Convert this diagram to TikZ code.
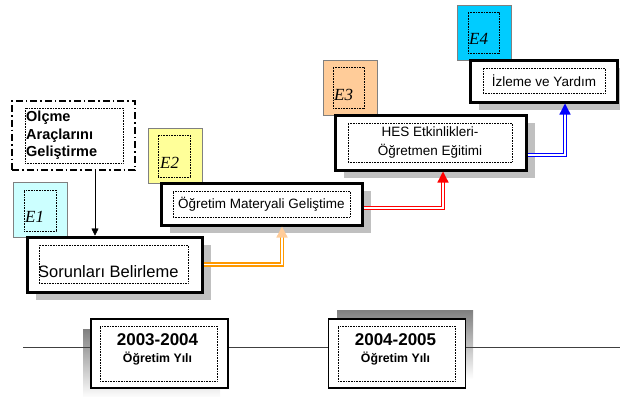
\documentclass[tikz,border=0pt]{standalone}
\usepackage{fontspec}
\setmainfont{Liberation Sans}
\newfontfamily\tagfont{Liberation Serif}
\usetikzlibrary{arrows.meta,shadows}
\definecolor{tagone}{HTML}{CCFFFF}
\definecolor{tagtwo}{HTML}{FFFF99}
\definecolor{tagthree}{HTML}{FFCC99}
\definecolor{tagfour}{HTML}{00CCFF}
\definecolor{shade}{HTML}{C0C0C0}
\definecolor{linkorange}{HTML}{FF9900}
\definecolor{linkpeach}{HTML}{FFCC99}
\definecolor{linegray}{HTML}{404040}

\begin{document}
\begin{tikzpicture}[x=1pt,y=-1pt,
    stepbox/.style={draw,line width=3pt,fill=white,rectangle,inner sep=0pt,
      drop shadow={opacity=1,fill=shade,shadow xshift=9pt,shadow yshift=-8pt}},
    innerbox/.style={draw,line width=0.6pt,dash pattern=on 0.7pt off 0.9pt,rectangle,inner sep=0pt},
    tagbox/.style={draw=gray,line width=0.8pt,rectangle,inner sep=0pt,minimum width=54pt,minimum height=55pt},
    tagtext/.style={font=\tagfont\itshape\fontsize{17}{17}\selectfont,inner sep=0pt,anchor=base west},
    steptext/.style={font=\fontsize{13.5}{19}\selectfont,align=center,inner sep=0pt},
    yearbox/.style={draw,line width=1.2pt,fill=white,rectangle,inner sep=0pt,minimum width=137pt,minimum height=69pt},
    yeartop/.style={font=\bfseries\fontsize{17}{18}\selectfont,inner sep=0pt,anchor=base},
    yearbot/.style={font=\bfseries\fontsize{12.3}{14}\selectfont,inner sep=0pt,anchor=base},
    link/.style={double,double distance=1.5pt,line width=1.3pt}]
    \useasboundingbox (0,0) rectangle (620,396);

    % tags
    \node[tagbox,fill=tagone] (e1) at (40.5,210) {};
    \node[innerbox,minimum width=32pt,minimum height=41pt] (e1in) at (40,210.5) {};
    \node[tagtext] (e1t) at (25,222.5) {E1};
    \node[tagbox,fill=tagtwo] (e2) at (175,155.5) {};
    \node[innerbox,minimum width=32pt,minimum height=42pt] (e2in) at (174,156) {};
    \node[tagtext] (e2t) at (160,168.5) {E2};
    \node[tagbox,fill=tagthree] (e3) at (350,87.5) {};
    \node[innerbox,minimum width=31pt,minimum height=41pt] (e3in) at (348.5,87.5) {};
    \node[tagtext] (e3t) at (334,100.5) {E3};
    \node[tagbox,fill=tagfour] (e4) at (484,32.5) {};
    \node[innerbox,minimum width=31pt,minimum height=41pt] (e4in) at (483.5,32.5) {};
    \node[tagtext] (e4t) at (469,44.5) {E4};

    % steps
    \node[draw,line width=1.5pt,dash pattern=on 7pt off 3pt on 1.5pt off 3pt,
      minimum width=123pt,minimum height=69pt] (olcme) at (73.5,135.5) {};
    \node[innerbox,minimum width=98pt,minimum height=55pt] (olcmein) at (74,135.5) {};
    \node[font=\bfseries\fontsize{14.5}{17.5}\selectfont,align=left,inner sep=0pt,anchor=north west]
      (olcmet) at (26,111) {Olçme\\Araçlarını\\Geliştirme};

    \node[stepbox,minimum width=175pt,minimum height=55pt] (sorun) at (114.5,264.5) {};
    \node[innerbox,minimum width=149pt,minimum height=38pt] (sorunin) at (113.5,264) {};
    \node[font=\fontsize{16.5}{16.5}\selectfont,inner sep=0pt,anchor=base west]
      (sorunt) at (38,277.5) {Sorunları Belirleme};

    \node[stepbox,minimum width=201pt,minimum height=42pt] (ogret) at (261.5,204) {};
    \node[innerbox,steptext,minimum width=177pt,minimum height=26pt] (ogretin) at (261.5,204)
      {Öğretim Materyali Geliştime};

    \node[stepbox,minimum width=191pt,minimum height=55pt] (hes) at (430.5,142.5) {};
    \node[innerbox,steptext,minimum width=164pt,minimum height=39pt] (hesin) at (430,142.5)
      {HES Etkinlikleri-\\Öğretmen Eğitimi};

    \node[stepbox,minimum width=147pt,minimum height=42pt] (izle) at (543.5,81) {};
    \node[innerbox,steptext,minimum width=122pt,minimum height=25pt] (izlein) at (544,80.5)
      {İzleme ve Yardım};

    % connectors
    \draw[-{Triangle[length=7pt,width=7pt]}] ([xshift=21.5pt]olcme.south) -- ([xshift=-19.5pt]sorun.north);
    \draw[link,draw=linkorange,-{Triangle[length=11pt,width=11pt,color=linkpeach]}]
      (sorun.east) -| ([xshift=20.5pt]ogret.south);
    \draw[link,draw=red,-{Triangle[length=11pt,width=11pt,color=red]}]
      ([yshift=-4pt]ogret.east) -| ([xshift=12.5pt]hes.south);
    \draw[link,draw=blue,-{Triangle[length=11pt,width=11pt,color=blue]}]
      ([yshift=-12.5pt]hes.east) -| ([xshift=21.5pt]izle.south);

    % years
    \fill[shade] (83,329) rectangle (220,398);
    \fill[shade] (337,310) rectangle (473,379);
    \node[yearbox] (yr1) at (159.5,353.5) {};
    \node[innerbox,minimum width=117pt,minimum height=55pt] (yr1in) at (158.5,353.5) {};
    \node[yeartop] (yr1a) at (157.5,345) {2003-2004};
    \node[yearbot] (yr1b) at (157.5,362) {Öğretim Yılı};

    \node[yearbox] (yr2) at (397,353.5) {};
    \node[innerbox,minimum width=117pt,minimum height=55pt] (yr2in) at (396.5,353.5) {};
    \node[yeartop] (yr2a) at (395.5,345) {2004-2005};
    \node[yearbot] (yr2b) at (395.5,362) {Öğretim Yılı};

    \coordinate (tl) at (23,347);
    \coordinate (tr) at (620,347);
    \draw[linegray,line width=1pt] (tl) -- (yr1.west |- tl) (yr1.east |- tl) -- (yr2.west |- tl)
      (yr2.east |- tl) -- (tr);
\end{tikzpicture}
\end{document}
